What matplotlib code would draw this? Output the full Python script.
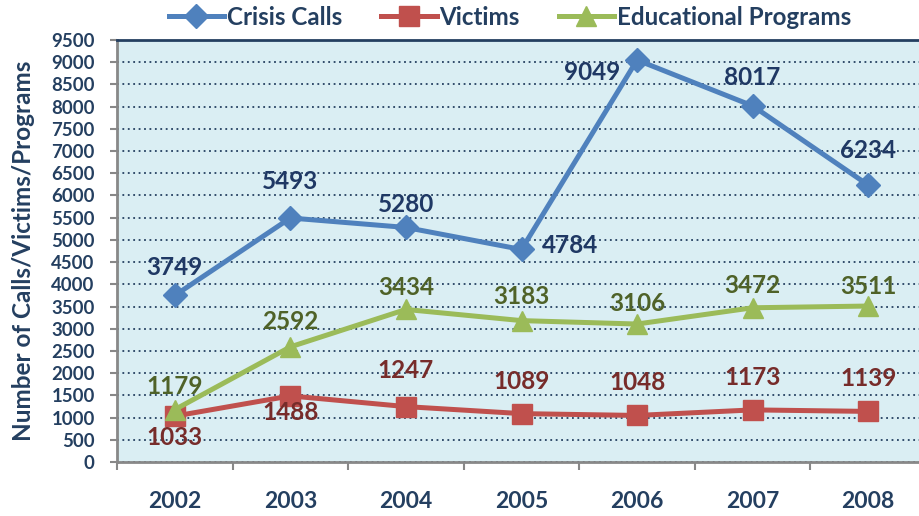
import matplotlib
matplotlib.use("Agg")
import matplotlib.pyplot as plt
from matplotlib.lines import Line2D

years = ["2002", "2003", "2004", "2005", "2006", "2007", "2008"]
crisis_calls = [3749, 5493, 5280, 4784, 9049, 8017, 6234]
victims = [1033, 1488, 1247, 1089, 1048, 1173, 1139]
edu_programs = [1179, 2592, 3434, 3183, 3106, 3472, 3511]
y_ticks = list(range(0, 9501, 500))

plt.rcParams['font.family'] = ['Lato', 'DejaVu Sans']
navy = '#243F60'
fig = plt.figure(figsize=(9.19, 5.16), dpi=100)
ax = fig.add_axes([117/919, (516-462)/516, (926-117)/919, (462-40)/516])
ax.set_facecolor('#DAEEF3')

x = list(range(len(years)))
lw = 3.6
ax.plot(x, crisis_calls, color='#4F81BD', lw=lw, marker='D', ms=12, label='Crisis Calls', zorder=4)
ax.plot(x, victims, color='#C0504D', lw=lw, marker='s', ms=14, label='Victims', zorder=3)
ax.plot(x, edu_programs, color='#9BBB59', lw=lw, marker='^', ms=14, label='Educational Programs', zorder=3)

ax.set_xlim(-0.5, 6.5)
ax.set_ylim(0, 9500)
ax.set_yticks(y_ticks)
ax.set_xticks([i + 0.5 for i in range(-1, 7)], minor=False)
ax.set_xticklabels([])
ax.tick_params(axis='x', length=6, color='#888888', width=1.5, direction='out')
ax.set_xticks(x, minor=True)
ax.set_xticklabels(years, minor=True)
ax.tick_params(axis='x', which='minor', length=0, pad=21, labelsize=16.5, labelcolor=navy)
for t in ax.get_xticklabels(minor=True):
    t.set_fontweight('bold')
ax.tick_params(axis='y', length=5, color='#888888', width=1.5, labelsize=13.4, labelcolor=navy, pad=11)
for t in ax.get_yticklabels():
    t.set_fontweight('bold')
ax.yaxis.grid(True, linestyle=(0, (1, 2)), color=navy, lw=1.3)
ax.set_axisbelow(True)
for s in ['left', 'bottom']:
    ax.spines[s].set_color('#888888')
    ax.spines[s].set_linewidth(2)
ax.spines['top'].set_color(navy)
ax.spines['top'].set_linewidth(2)
ax.spines['right'].set_visible(False)
ax.set_ylabel('Number of Calls/Victims/Programs', fontsize=17.5, fontweight='bold', color=navy)
ax.yaxis.set_label_coords(-0.101, 0.5)

fs = 17.5
# label offsets in pixels (dx, dy) from the marker, text centred
crisis_off = [(0, 28), (0, 36), (0, 23), (49, 4), (-45, -12), (0, 28), (0, 35)]
for i, v in enumerate(crisis_calls):
    dx, dy = crisis_off[i]
    ax.annotate(str(v), (i, v), xytext=(dx, dy), textcoords='offset pixels', ha='center', va='center',
                fontsize=fs, fontweight='bold', color='#1F3864', zorder=6)
edu_off = [23, 25, 22, 24, 21, 22, 20]
for i, v in enumerate(edu_programs):
    ax.annotate(str(v), (i, v), xytext=(0, edu_off[i]), textcoords='offset pixels', ha='center', va='center',
                fontsize=fs, fontweight='bold', color='#4F6228', zorder=6)
vic_off = [-21, -17, 36, 32, 33, 32, 33]
for i, v in enumerate(victims):
    ax.annotate(str(v), (i, v), xytext=(0, vic_off[i]), textcoords='offset pixels', ha='center',
                va='center', fontsize=fs, fontweight='bold', color='#772C2A', zorder=6)

handles = [Line2D([], [], color='#4F81BD', lw=lw, marker='D', ms=12),
           Line2D([], [], color='#C0504D', lw=lw, marker='s', ms=14),
           Line2D([], [], color='#9BBB59', lw=lw, marker='^', ms=14)]
leg = fig.legend(handles, ['Crisis Calls', 'Victims', 'Educational Programs'], loc='center',
                 bbox_to_anchor=(510/919, 1 - 17/516), ncol=3, frameon=False, handlelength=2.3,
                 handletextpad=0.12, columnspacing=1.6, borderpad=0.2,
                 prop={'weight': 'bold', 'size': 17.4})
for t in leg.get_texts():
    t.set_color(navy)

fig.savefig('out.png', dpi=100)
